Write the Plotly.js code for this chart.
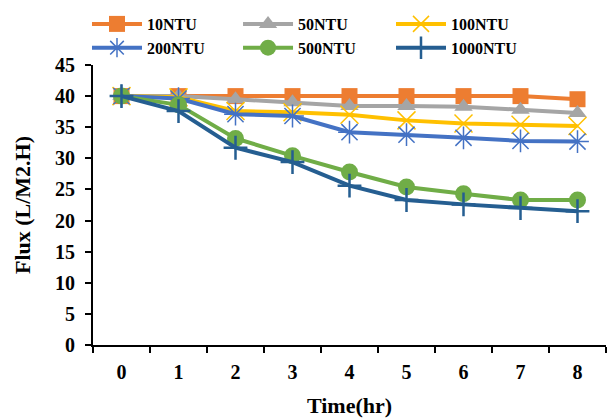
<!DOCTYPE html>
<html><head><meta charset="utf-8">
<script src="https://cdn.plot.ly/plotly-3.0.1.min.js"></script>
<style>html,body{margin:0;padding:0;background:#fff;}</style>
</head><body><div id="chart" style="width:610px;height:419px;"></div>
<script>
const times = ['0','1','2','3','4','5','6','7','8'];
const ntu10   = [40, 40, 40, 40, 40, 40, 40, 40, 39.5];
const ntu50   = [40, 40, 39.5, 39, 38.4, 38.4, 38.3, 37.8, 37.3];
const ntu100  = [40, 39.8, 37.6, 37.4, 37, 36.1, 35.6, 35.4, 35.2];
const ntu200  = [40, 39.6, 37.1, 36.8, 34.2, 33.8, 33.3, 32.8, 32.7];
const ntu500  = [40, 38.6, 33.2, 30.4, 27.8, 25.4, 24.3, 23.3, 23.3];
const ntu1000 = [40, 37.6, 31.7, 29.4, 25.6, 23.3, 22.6, 22.0, 21.5];
const names = ['10NTU','50NTU','100NTU','200NTU','500NTU','1000NTU'];

const fam = '"Liberation Serif", "Times New Roman", serif';
function tr(y, name, color, symbol, msize, leg, mline){
  return {x: times, y: y, name: name, type:'scatter', mode:'lines+markers', legend: leg,
    line:{color: color, width: 4},
    marker:{symbol: symbol, size: msize, color: color, line: mline || {width:0}}};
}
const data = [
  tr(ntu10, names[0], '#ED7D31', 'square', 16, 'legend'),
  tr(ntu50, names[1], '#A5A5A5', 'triangle-up', 16, 'legend2'),
  tr(ntu100, names[2], '#FFC000', 'x-thin-open', 18, 'legend3', {width:1.5, color:'#FFC000'}),
  tr(ntu200, names[3], '#4472C4', 'asterisk-open', 19, 'legend', {width:1.5, color:'#6F8FD8'}),
  tr(ntu500, names[4], '#70AD47', 'circle', 17, 'legend2'),
  tr(ntu1000, names[5], '#255E91', 'cross-thin-open', 17, 'legend3', {width:2.5, color:'#255E91'})
];
function leg(x){
  return {orientation:'v', x: x, xanchor:'left', y: 1.0, yanchor:'bottom',
    font:{family: fam, size: 16, color:'#000', weight:'bold'},
    itemwidth: 50, tracegroupgap: 0, bgcolor:'rgba(0,0,0,0)'};
}
const layout = {
  width: 610, height: 419,
  margin: {l: 93, r: 4, t: 65, b: 74},
  paper_bgcolor:'#fff', plot_bgcolor:'#fff',
  font: {family: fam, color:'#000'},
  showlegend: true,
  legend: leg(-0.0117),
  legend2: leg(0.2827),
  legend3: leg(0.5809),
  xaxis: {type:'category', tickson:'boundaries', ticks:'outside', ticklen:6, tickwidth:2,
    tickcolor:'#000', showline:true, linecolor:'#000', linewidth:2, showgrid:false,
    zeroline:false, range:[-0.5, 8.5], ticklabelstandoff: 8,
    tickfont:{family: fam, size: 20, color:'#000', weight:'bold'},
    title:{text:'Time(hr)', standoff: 16, font:{family: fam, size: 22, color:'#000', weight:'bold'}}},
  yaxis: {range:[0,45], dtick:5, ticks:'outside', ticklen:6, tickwidth:2, tickcolor:'#000',
    showline:true, linecolor:'#000', linewidth:2, showgrid:false, zeroline:false,
    ticklabelstandoff: 6,
    tickfont:{family: fam, size: 20, color:'#000', weight:'bold'},
    title:{text:'Flux (L/M2.H)', standoff: 18, font:{family: fam, size: 22, color:'#000', weight:'bold'}}}
};
Plotly.newPlot('chart', data, layout, {displayModeBar:false, staticPlot:true});
</script></body></html>
